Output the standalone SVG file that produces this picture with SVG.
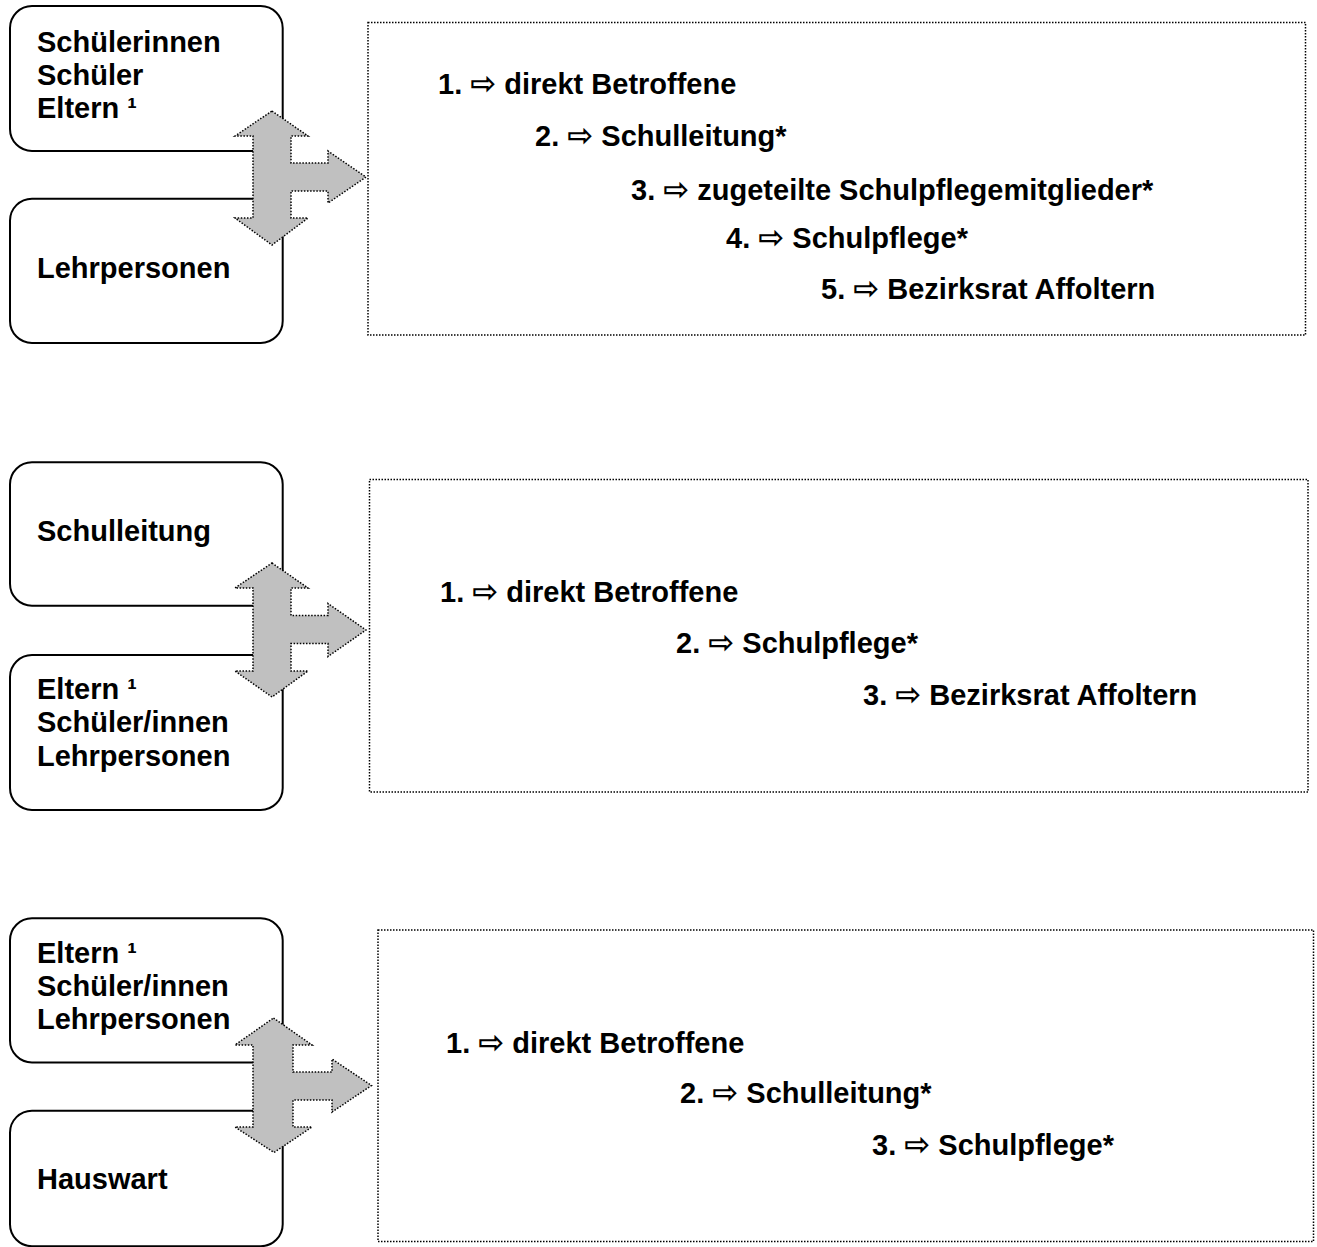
<svg xmlns="http://www.w3.org/2000/svg" width="1317" height="1247" viewBox="0 0 1317 1247">
  <style>
    .node { fill: #ffffff; stroke: #000000; stroke-width: 2; }
    .panel { fill: #ffffff; stroke: #000000; stroke-width: 1.5; stroke-dasharray: 1.5 1.5; }
    .conn { fill: #c0c0c0; stroke: #000000; stroke-width: 1.5; stroke-dasharray: 1.5 1.6; }
    .t { font-family: "Liberation Sans", Arial, sans-serif; font-weight: bold; font-size: 29px; fill: #000000; }
    .ar { font-family: "DejaVu Sans", sans-serif; font-weight: bold; font-size: 31px; }
  </style>
  <rect width="1317" height="1247" fill="#ffffff"/>

  <!-- Section 1 -->
  <g id="panel1">
    <rect class="panel" x="368" y="22.5" width="937.5" height="312.5"/>
    <text class="t" x="438" y="94">1. <tspan class="ar">⇨</tspan> direkt Betroffene</text>
    <text class="t" x="535" y="146">2. <tspan class="ar">⇨</tspan> Schulleitung*</text>
    <text class="t" x="631" y="200">3. <tspan class="ar">⇨</tspan> zugeteilte Schulpflegemitglieder*</text>
    <text class="t" x="726" y="248">4. <tspan class="ar">⇨</tspan> Schulpflege*</text>
    <text class="t" x="821" y="299">5. <tspan class="ar">⇨</tspan> Bezirksrat Affoltern</text>
  </g>
  <g id="node-schueler1">
    <rect class="node" x="10" y="6" width="272.7" height="145" rx="22" ry="22"/>
    <text class="t" x="37" y="52">Schülerinnen</text>
    <text class="t" x="37" y="85">Schüler</text>
    <text class="t" x="37" y="118">Eltern ¹</text>
  </g>
  <g id="node-lehrpersonen1">
    <rect class="node" x="10" y="198.7" width="272.7" height="144.3" rx="22" ry="22"/>
    <text class="t" x="37" y="278">Lehrpersonen</text>
  </g>

  <!-- Section 2 -->
  <g id="panel2">
    <rect class="panel" x="369.5" y="479.5" width="938.5" height="312.5"/>
    <text class="t" x="440" y="602">1. <tspan class="ar">⇨</tspan> direkt Betroffene</text>
    <text class="t" x="676" y="653">2. <tspan class="ar">⇨</tspan> Schulpflege*</text>
    <text class="t" x="863" y="705">3. <tspan class="ar">⇨</tspan> Bezirksrat Affoltern</text>
  </g>
  <g id="node-schulleitung2">
    <rect class="node" x="10" y="462.3" width="272.7" height="143.4" rx="22" ry="22"/>
    <text class="t" x="37" y="541">Schulleitung</text>
  </g>
  <g id="node-eltern2">
    <rect class="node" x="10" y="655" width="272.7" height="155" rx="22" ry="22"/>
    <text class="t" x="37" y="699">Eltern ¹</text>
    <text class="t" x="37" y="732">Schüler/innen</text>
    <text class="t" x="37" y="766">Lehrpersonen</text>
  </g>

  <!-- Section 3 -->
  <g id="panel3">
    <rect class="panel" x="378" y="930" width="935.5" height="311.5"/>
    <text class="t" x="446" y="1053">1. <tspan class="ar">⇨</tspan> direkt Betroffene</text>
    <text class="t" x="680" y="1103">2. <tspan class="ar">⇨</tspan> Schulleitung*</text>
    <text class="t" x="872" y="1155">3. <tspan class="ar">⇨</tspan> Schulpflege*</text>
  </g>
  <g id="node-eltern3">
    <rect class="node" x="10" y="918.3" width="272.7" height="144.2" rx="22" ry="22"/>
    <text class="t" x="37" y="963">Eltern ¹</text>
    <text class="t" x="37" y="996">Schüler/innen</text>
    <text class="t" x="37" y="1029">Lehrpersonen</text>
  </g>
  <g id="node-hauswart3">
    <rect class="node" x="10" y="1110.7" width="272.7" height="135.5" rx="22" ry="22"/>
    <text class="t" x="37" y="1189">Hauswart</text>
  </g>

  <!-- Connectors (grey three-way block arrows) -->
  <g id="connectors">
    <polygon class="conn" points="272,111 308,136 291,136 291,163 328,163 328,151 366,177 328,203 328,191 291,191 291,218 308,218 272,245 235,218 253,218 253,136 235,136"/>
    <polygon class="conn" points="272,563 308,588 291,588 291,615.5 328,615.5 328,603.5 366,630 328,656.5 328,643.5 291,643.5 291,671 308,671 272,697 235,671 253,671 253,588 235,588"/>
    <polygon class="conn" points="273.5,1018 312,1045 293,1045 293,1072 332,1072 332,1059 371.5,1085.5 332,1112 332,1100 293,1100 293,1127 312,1127 274,1152.5 235,1127 253,1127 253,1045 235,1045"/>
  </g>
</svg>
